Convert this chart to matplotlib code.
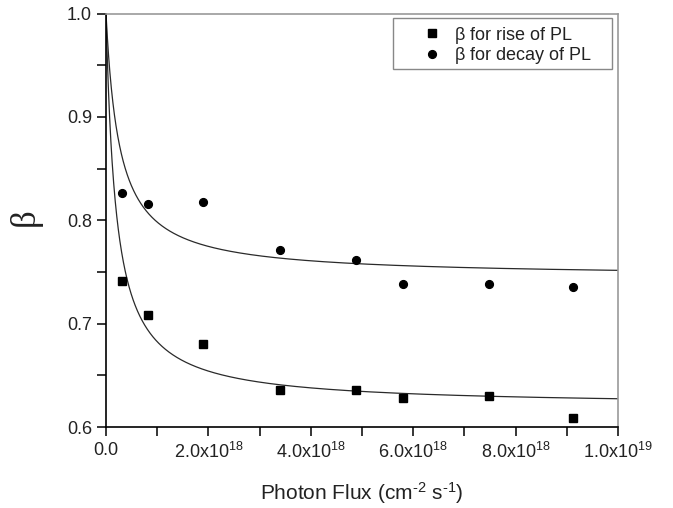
import numpy as np
import matplotlib
matplotlib.use("Agg")
import matplotlib.pyplot as plt
from matplotlib.ticker import MultipleLocator, FixedLocator, FixedFormatter
from matplotlib.patches import Rectangle

plt.rcParams['font.family'] = ['Liberation Sans', 'DejaVu Sans']
plt.rcParams['mathtext.default'] = 'regular'

# Data
flux_rise = [3.2e17, 8.2e17, 1.90e18, 3.40e18, 4.89e18, 5.80e18, 7.48e18, 9.13e18]
beta_rise = [0.7415, 0.7085, 0.680, 0.6358, 0.6356, 0.628, 0.6297, 0.609]
flux_decay = [3.2e17, 8.2e17, 1.90e18, 3.40e18, 4.89e18, 5.80e18, 7.48e18, 9.13e18]
beta_decay = [0.8267, 0.8158, 0.8174, 0.7712, 0.7612, 0.7383, 0.738, 0.7357]

# fitted curve parameters: beta = A + (1-A)/(1 + F/F0)
fit_rise = [0.62, 1.97e17]
fit_decay = [0.745, 2.636e17]

x_ticks = [0, 2e18, 4e18, 6e18, 8e18, 1e19]
x_labels = ['0.0', '2.0x10$^{18}$', '4.0x10$^{18}$', '6.0x10$^{18}$',
            '8.0x10$^{18}$', '1.0x10$^{19}$']
y_ticks = [0.6, 0.7, 0.8, 0.9, 1.0]
y_labels = ['0.6', '0.7', '0.8', '0.9', '1.0']

W, H = 673, 508
fig = plt.figure(figsize=(W/100, H/100), dpi=100)
ax = fig.add_axes([106/W, 1-427/H, 512/W, (427-13.5)/H])

F = np.linspace(0, 1e19, 2000)
for A, F0 in (fit_rise, fit_decay):
    ax.plot(F, A + (1-A)/(1 + F/F0), color='#2a2a2a', lw=0.9, zorder=2)

ax.plot(flux_rise, beta_rise, 's', color='black', ms=6, ls='none',
        label=r'$\beta$ for rise of PL', zorder=3)
ax.plot(flux_decay, beta_decay, 'o', color='black', ms=5.6, ls='none',
        label=r'$\beta$ for decay of PL', zorder=3)

ax.set_xlim(0, 1e19)
ax.set_ylim(0.6, 1.0)
ax.xaxis.set_major_locator(FixedLocator(x_ticks))
ax.xaxis.set_major_formatter(FixedFormatter(x_labels))
ax.xaxis.set_minor_locator(MultipleLocator(1e18))
ax.yaxis.set_major_locator(FixedLocator(y_ticks))
ax.yaxis.set_major_formatter(FixedFormatter(y_labels))
ax.yaxis.set_minor_locator(MultipleLocator(0.05))

ax.tick_params(axis='both', which='both', direction='out', length=6.5, width=1.1,
               top=False, right=False, colors='black')
ax.tick_params(axis='both', which='major', labelsize=13, labelcolor='#222222')
ax.tick_params(axis='y', pad=3.5)
ax.tick_params(axis='x', pad=4)

for s in ('left', 'bottom'):
    ax.spines[s].set_color('black')
    ax.spines[s].set_linewidth(1.2)
for s in ('top', 'right'):
    ax.spines[s].set_color('#999999')
    ax.spines[s].set_linewidth(1.2)

ax.set_xlabel('Photon Flux (cm$^{\u20102}$ s$^{\u20101}$)', fontsize=15,
              color='#222222', labelpad=13)
ax.set_ylabel(r'$\beta$', fontsize=25, color='#222222', labelpad=15,
              family=['Liberation Serif'])

# legend frame
fig.add_artist(Rectangle((392.7/W, 1-69.3/H), (612.3-392.7)/W, (69.3-17.7)/H,
                         transform=fig.transFigure, fill=False,
                         edgecolor='#888888', lw=1.0))
leg = ax.legend(loc='upper left', bbox_to_anchor=(420.9/W, 1-24.5/H),
                bbox_transform=fig.transFigure, frameon=False,
                fontsize=13, borderpad=0, handletextpad=0.64, labelspacing=0.0,
                borderaxespad=0, handlelength=1.2)
for t in leg.get_texts():
    t.set_color('#222222')

fig.savefig('out.png', dpi=100)
